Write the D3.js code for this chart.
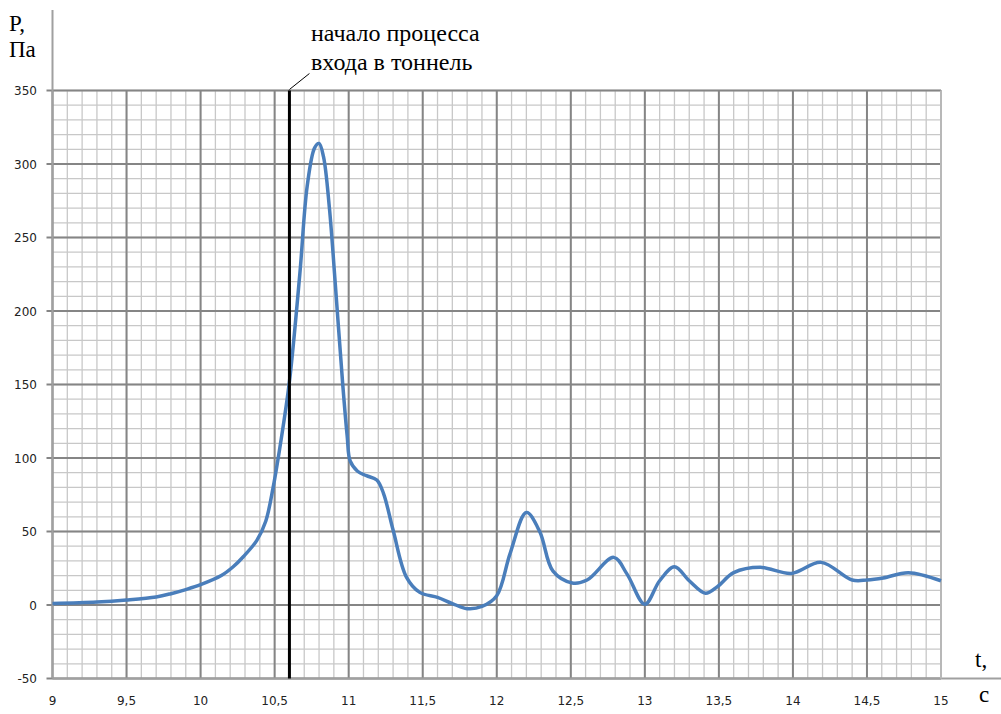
<!DOCTYPE html>
<html>
<head>
<meta charset="utf-8">
<script src="https://cdn.jsdelivr.net/npm/d3@7"></script>
<style>
  body { margin: 0; background: #fff; }
  svg { display: block; }
</style>
</head>
<body>
<div id="chart"></div>
<script>
var WIDTH = 1001
var HEIGHT = 714

// pressure P (Pa) over time t (s)
var timeValues = [9, 9.3, 9.5, 9.7, 9.8, 9.9, 10, 10.14, 10.22, 10.29, 10.38, 10.44, 10.49, 10.54, 10.6, 10.67, 10.72, 10.77, 10.8, 10.83, 10.87, 10.91, 10.96, 10.99, 11.01, 11.06, 11.12, 11.19, 11.235, 11.3, 11.39, 11.48, 11.6, 11.7, 11.8, 11.9, 12, 12.09, 12.2, 12.29, 12.38, 12.51, 12.61, 12.79, 12.88, 13, 13.1, 13.2, 13.3, 13.41, 13.49, 13.6, 13.78, 13.99, 14.19, 14.4, 14.5, 14.61, 14.78, 15]
var pressureValues = [1, 2, 3.4, 5.5, 7.7, 10.5, 13.8, 20, 26, 33, 44, 57, 80, 110, 152, 225, 285, 311, 314, 305, 270, 218, 150, 115, 98, 91, 88, 85, 76, 51, 19, 8.6, 5.2, 1, -2.5, -1, 6.3, 35, 63, 50, 23, 15, 17, 32.4, 21, 0.5, 16.5, 26, 16.5, 8, 12.5, 22, 25.6, 21.5, 29, 17, 17, 18.4, 22, 16.5]

var xTicks = [9, 9.5, 10, 10.5, 11, 11.5, 12, 12.5, 13, 13.5, 14, 14.5, 15]
var yTicks = [-50, 0, 50, 100, 150, 200, 250, 300, 350]
var markerTime = 10.6
var noteLines = ['начало процесса', 'входа в тоннель']

var x = d3.scaleLinear().domain([9, 15]).range([52.5, 941])
var y = d3.scaleLinear().domain([-50, 350]).range([678.5, 90.5])

var svg = d3.select('#chart').append('svg')
    .attr('width', WIDTH)
    .attr('height', HEIGHT)

// minor grid
var minorX = d3.range(90, 151).map(d => d / 10)
var minorY = d3.range(-50, 351, 10)
svg.append('g').selectAll('line')
    .data(minorX)
    .enter()
    .append('line')
    .attr('x1', d => x(d)).attr('x2', d => x(d))
    .attr('y1', y(350)).attr('y2', y(-50))
    .attr('stroke', '#c8c8c8').attr('stroke-width', 1.3)
svg.append('g').selectAll('line')
    .data(minorY)
    .enter()
    .append('line')
    .attr('y1', d => y(d)).attr('y2', d => y(d))
    .attr('x1', x(9)).attr('x2', x(15))
    .attr('stroke', '#c8c8c8').attr('stroke-width', 1.3)

// major grid
svg.append('g').selectAll('line')
    .data(xTicks)
    .enter()
    .append('line')
    .attr('x1', d => x(d)).attr('x2', d => x(d))
    .attr('y1', y(350)).attr('y2', y(-50))
    .attr('stroke', '#858585').attr('stroke-width', 2)
svg.append('g').selectAll('line')
    .data(yTicks)
    .enter()
    .append('line')
    .attr('y1', d => y(d)).attr('y2', d => y(d))
    .attr('x1', x(9) - 6).attr('x2', x(15))
    .attr('stroke', '#858585').attr('stroke-width', 2)

// axis lines (left goes up, bottom runs to the edge)
svg.append('line')
    .attr('x1', x(9)).attr('x2', x(9))
    .attr('y1', 10).attr('y2', y(-50))
    .attr('stroke', '#a0a0a0').attr('stroke-width', 2)
svg.append('line')
    .attr('x1', x(9)).attr('x2', WIDTH)
    .attr('y1', y(-50)).attr('y2', y(-50))
    .attr('stroke', '#a0a0a0').attr('stroke-width', 2)
svg.append('line')
    .attr('x1', x(15)).attr('x2', x(15))
    .attr('y1', y(350)).attr('y2', y(-50))
    .attr('stroke', '#b8b8b8').attr('stroke-width', 2)

// tick labels
svg.append('g').selectAll('text')
    .data(yTicks)
    .enter()
    .append('text')
    .attr('x', 37)
    .attr('y', d => y(d) + 4.5)
    .attr('text-anchor', 'end')
    .attr('font-family', 'DejaVu Sans, sans-serif')
    .attr('font-size', 12)
    .attr('fill', '#222')
    .text(d => String(d))
svg.append('g').selectAll('text')
    .data(xTicks)
    .enter()
    .append('text')
    .attr('x', d => x(d))
    .attr('y', 705)
    .attr('text-anchor', 'middle')
    .attr('font-family', 'DejaVu Sans, sans-serif')
    .attr('font-size', 12)
    .attr('fill', '#222')
    .text(d => String(d).replace('.', ','))

// axis titles
var serif = 'Liberation Serif, Times New Roman, serif'
svg.append('text').attr('x', 9).attr('y', 31).attr('font-family', serif).attr('font-size', 23).text('P,')
svg.append('text').attr('x', 9).attr('y', 57).attr('font-family', serif).attr('font-size', 23).text('Па')
svg.append('text').attr('x', 975).attr('y', 667).attr('font-family', serif).attr('font-size', 23).text('t,')
svg.append('text').attr('x', 979).attr('y', 702).attr('font-family', serif).attr('font-size', 23).text('c')

// curve
var line = d3.line()
    .x(d => x(d[0]))
    .y(d => y(d[1]))
    .curve(d3.curveCatmullRom.alpha(0.5))
svg.append('path')
    .datum(d3.zip(timeValues, pressureValues))
    .attr('d', line)
    .attr('fill', 'none')
    .attr('stroke', '#4a7ebb')
    .attr('stroke-width', 3.5)
    .attr('stroke-linejoin', 'round')

// marker line and note
svg.append('line')
    .attr('x1', x(markerTime)).attr('x2', x(markerTime))
    .attr('y1', y(350)).attr('y2', y(-50))
    .attr('stroke', '#000').attr('stroke-width', 3)
svg.append('line')
    .attr('x1', x(markerTime)).attr('y1', y(350) - 1)
    .attr('x2', x(markerTime) + 20).attr('y2', y(350) - 17)
    .attr('stroke', '#000').attr('stroke-width', 1)
svg.append('g').selectAll('text')
    .data(noteLines)
    .enter()
    .append('text')
    .attr('x', 311)
    .attr('y', (d, i) => 41 + i * 29)
    .attr('font-family', serif)
    .attr('font-size', 24)
    .attr('fill', '#000')
    .text(d => d)
</script>
</body>
</html>
